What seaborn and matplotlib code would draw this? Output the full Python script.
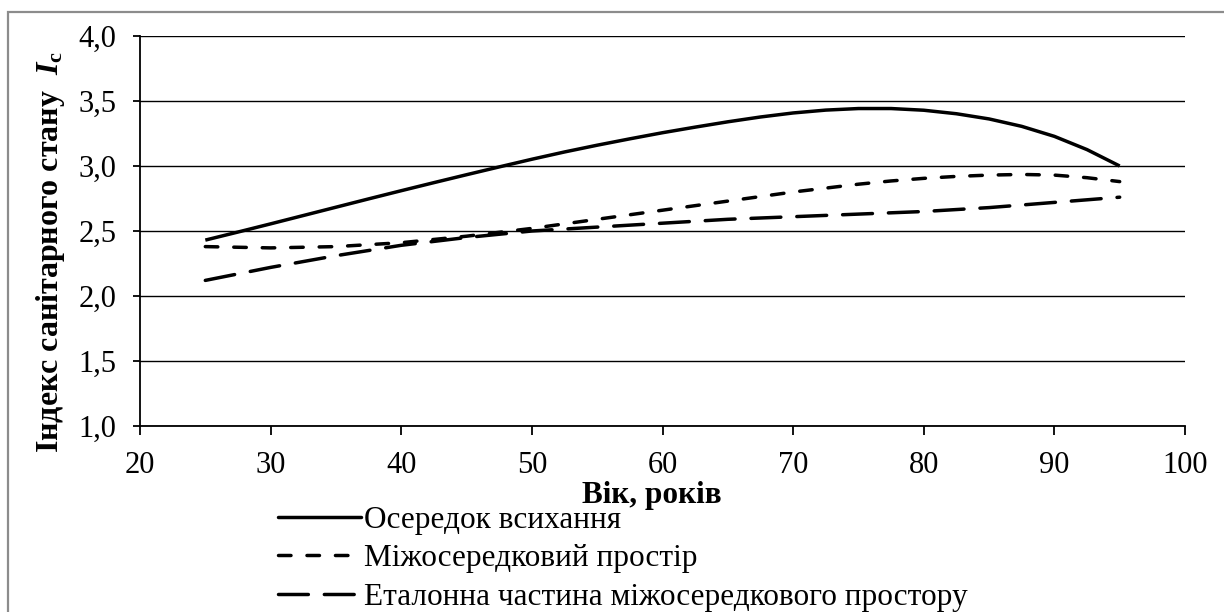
import matplotlib
matplotlib.use("Agg")
import matplotlib.pyplot as plt
from matplotlib.patches import Rectangle
from matplotlib.lines import Line2D
import pandas as pd
import seaborn as sns

# Age of stands, years
age = [25, 27.5, 30, 32.5, 35, 37.5, 40, 42.5, 45, 47.5, 50, 52.5, 55, 57.5,
       60, 62.5, 65, 67.5, 70, 72.5, 75, 77.5, 80, 82.5, 85, 87.5, 90, 92.5, 95]

# Sanitary condition index by stand part
focus = [2.430, 2.492, 2.555, 2.619, 2.683, 2.747, 2.810, 2.872, 2.933, 2.993,
         3.052, 3.108, 3.160, 3.209, 3.256, 3.299, 3.340, 3.377, 3.408, 3.430,
         3.442, 3.442, 3.429, 3.402, 3.362, 3.305, 3.228, 3.126, 3.000]
between = [2.38, 2.375, 2.37, 2.375, 2.38, 2.395, 2.41, 2.435, 2.46, 2.49, 2.52,
           2.555, 2.59, 2.625, 2.66, 2.695, 2.73, 2.765, 2.80, 2.83, 2.86, 2.885,
           2.905, 2.92, 2.93, 2.935, 2.93, 2.91, 2.88]
reference = [2.12, 2.17, 2.22, 2.265, 2.31, 2.35, 2.39, 2.42, 2.45, 2.475, 2.50,
             2.515, 2.53, 2.545, 2.56, 2.575, 2.59, 2.60, 2.61, 2.62, 2.63, 2.64,
             2.65, 2.665, 2.68, 2.70, 2.72, 2.74, 2.76]

series_names = [
    "Осередок всихання",
    "Міжосередковий простір",
    "Еталонна частина міжосередкового простору",
]

x_ticks = [20, 30, 40, 50, 60, 70, 80, 90, 100]
y_ticks = [1.0, 1.5, 2.0, 2.5, 3.0, 3.5, 4.0]
y_tick_labels = ["1,0", "1,5", "2,0", "2,5", "3,0", "3,5", "4,0"]

sns.set_theme(style="white")
plt.rcParams["font.family"] = ["Liberation Serif", "DejaVu Serif"]
plt.rcParams["mathtext.fontset"] = "custom"
plt.rcParams["mathtext.rm"] = "Liberation Serif:bold"
plt.rcParams["mathtext.it"] = "Liberation Serif:italic:bold"
plt.rcParams["mathtext.bf"] = "Liberation Serif:bold"

W, H = 1224, 612
FS_TICK = 22
FS_LEG = 22.5
LW = 2.5

fig = plt.figure(figsize=(W / 100, H / 100), dpi=100)
fig.patch.set_facecolor("white")
ax = fig.add_axes([140 / W, 1 - 426 / H, 1045 / W, 390 / H])

n = len(age)
df = pd.DataFrame({
    "age": age * 3,
    "value": focus + between + reference,
    "series": [series_names[0]] * n + [series_names[1]] * n + [series_names[2]] * n,
})

styles = {
    series_names[0]: "-",
    series_names[1]: (0, (3.6, 4.6)),
    series_names[2]: (0, (8.6, 4.6)),
}

for name in series_names:
    sub = df[df["series"] == name]
    sns.lineplot(data=sub, x="age", y="value", ax=ax, color="black",
                 linewidth=LW, linestyle=styles[name], dash_capstyle="round",
                 solid_capstyle="butt", solid_joinstyle="round",
                 legend=False, zorder=3)

ax.set_xlim(20, 100)
ax.set_ylim(1.0, 4.0)
ax.set_xticks(x_ticks)
ax.set_xticklabels([str(t) for t in x_ticks], fontsize=FS_TICK)
ax.set_yticks(y_ticks)
ax.set_yticklabels(y_tick_labels, fontsize=FS_TICK)

ax.yaxis.grid(True, color="black", linewidth=1.0)
ax.xaxis.grid(False)
ax.set_axisbelow(True)
for side in ["top", "right"]:
    ax.spines[side].set_visible(False)
for side in ["left", "bottom"]:
    ax.spines[side].set_color("black")
    ax.spines[side].set_linewidth(1.3)

ax.tick_params(axis="x", direction="out", length=6.5, width=1.3, color="black",
               labelcolor="black", pad=11.5, bottom=True)
ax.tick_params(axis="y", direction="out", length=5, width=1.3, color="black",
               labelcolor="black", pad=12, left=True)

ax.set_xlabel("Вік, років", fontsize=22.5, fontweight="bold", color="black")
ax.xaxis.set_label_coords((652 - 140) / 1045, (426 - 481) / 390)
ax.set_ylabel("Індекс санітарного стану  $I_{\\mathrm{c}}$", fontsize=23,
              fontweight="bold", color="black")
ax.yaxis.set_label_coords((67 - 140) / 1045, (426 - 252) / 390)

handles = [
    Line2D([], [], color="black", linewidth=LW, linestyle=styles[s],
           dash_capstyle="round") for s in series_names
]
leg = fig.legend(handles, series_names, loc="upper left",
                 bbox_to_anchor=(278 / W, 1 - 506 / H),
                 frameon=False, fontsize=FS_LEG, handlelength=2.65, handletextpad=0.1,
                 labelspacing=0.3, borderpad=0, borderaxespad=0)
for t in leg.get_texts():
    t.set_color("black")

# Chart area frame
fig.patches.append(Rectangle((8 / W, -0.2), 1.5, 1.2 - 12 / H,
                             transform=fig.transFigure, fill=False,
                             edgecolor="#8c8c8c", linewidth=1.6, zorder=0))

fig.savefig("out.png", dpi=100, facecolor="white")
